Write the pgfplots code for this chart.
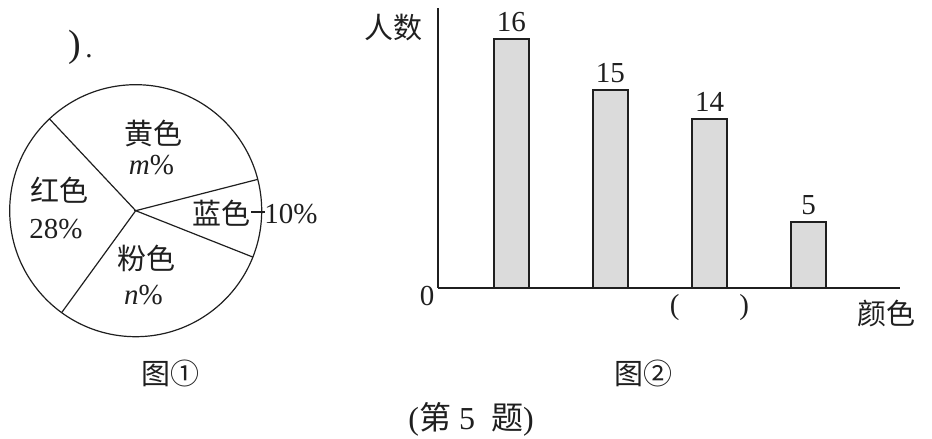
\documentclass[border=0pt]{standalone}
\usepackage{fontspec}
\setmainfont{Liberation Serif}
\newfontfamily\cjk{Noto Sans CJK SC}
\usepackage{pgfplots}
\usepackage{pgfplotstable}
\pgfplotsset{compat=1.18}

% bar heights as drawn (the figure is not to scale), label = printed count
\pgfplotstableread{
x h n
1 249 16
2 198 15
3 169 14
4 66 5
}\bardata

\newcommand\fs{\fontsize{14.5}{17}\selectfont}
\colorlet{ink}{black!88}

\begin{document}
\begin{tikzpicture}[x=0.5pt, y=0.5pt, every node/.style={inner sep=0pt, text=ink}]
\path[use as bounding box] (0,0) rectangle (932,439);

% pie chart: blue 10%, yellow 33%, red 28%, pink 29% (sector edges in degrees)
\begin{scope}[shift={(135.7,228.3)}]
\begin{axis}[
    at={(0,0)}, anchor=center,
    scale only axis, width=126pt, height=126pt,
    xmin=-1, xmax=1, ymin=-1, ymax=1,
    hide axis, clip=false,
]
\draw[ink, line width=0.6pt] (axis cs:0,0) circle [radius=1];
\addplot[ink, line width=0.6pt, mark=none, data cs=polar]
    coordinates {(-21.6,1) (0,0) (14.4,1) (0,0) (133.2,1) (0,0) (234,1)};
\end{axis}
\end{scope}

\node[font=\fontsize{19}{21}\selectfont] at (75,392) {)};
\node[font=\fs] at (89,383) {.};
\node[font=\fs\cjk] at (153.5,305.5) {黄色};
\node[font=\fs] at (151.5,274) {\textit{m}\%};
\node[font=\fs\cjk] at (60,248.5) {红色};
\node[font=\fs] at (56,210) {28\%};
\node[font=\fs\cjk] at (146,180.5) {粉色};
\node[font=\fs] at (143.5,144) {\textit{n}\%};
\node[font=\fs\cjk] at (221.5,225.5) {蓝色};
\draw[ink, line width=0.6pt] (251,227) -- (265,227);
\node[font=\fs, anchor=west] at (264,225) {10\%};
\node[font=\fs\cjk] at (170,66) {图①};

% bar chart
\begin{scope}[shift={(438,151)}]
\begin{axis}[
    at={(0,0)}, anchor=south west,
    scale only axis, width=231pt, height=140pt,
    xmin=0.258, xmax=4.924, ymin=0, ymax=280,
    axis x line=bottom, axis y line=left,
    axis line style={-, line width=0.75pt, ink},
    ytick=\empty, xtick={3}, xticklabels={(\hspace{30pt})},
    major tick length=0pt,
    xticklabel style={font=\fs, anchor=center, yshift=-10pt},
]
\addplot[ybar, bar width=17.5pt, fill=black!14, draw=ink, line width=0.6pt,
    nodes near coords, point meta=explicit symbolic,
    nodes near coords style={font=\fs, anchor=south, yshift=3.5pt}]
    table[x=x, y=h, meta=n] {\bardata};
\end{axis}
\end{scope}

\node[font=\fs\cjk] at (393,411) {人数};
\node[font=\fs] at (427,143) {0};
\node[font=\fs\cjk] at (886,126) {颜色};
\node[font=\fs\cjk] at (643,66) {图②};
\node[font=\fontsize{16}{18}\selectfont] at (471,20) {({\cjk 第}\hspace{4pt}5\hspace{8pt}{\cjk 题})};
\end{tikzpicture}
\end{document}
